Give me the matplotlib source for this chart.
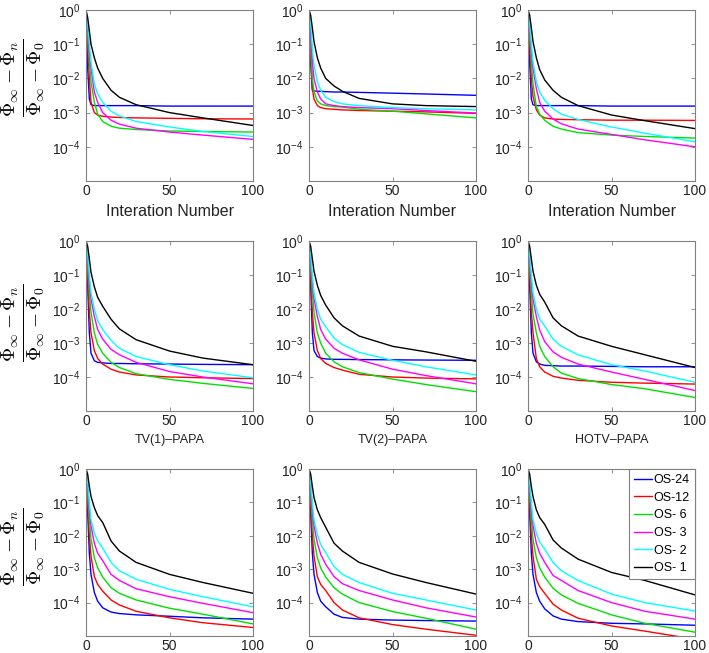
#!/usr/bin/python3
# Relative objective error vs. iteration for OS-PAPA variants (3x3 grid).
import matplotlib
matplotlib.use('Agg')
import matplotlib.pyplot as plt
from matplotlib.ticker import NullLocator

iters = [0, 1, 2, 3, 5, 7, 10, 15, 20, 30, 50, 70, 100]

# Series order: OS-24, OS-12, OS-6, OS-3, OS-2, OS-1.
series = ['OS-24', 'OS-12', 'OS- 6', 'OS- 3', 'OS- 2', 'OS- 1']
colors = ['#0000ff', '#ff0000', '#00e000', '#ff00ff', '#00ffff', '#000000']

# Row titles (x labels).
row_labels = [['Interation Number'] * 3,
              ['TV(1)\u2013PAPA', 'TV(2)\u2013PAPA', 'HOTV\u2013PAPA'],
              ['', '', '']]

# Row 1, column 1.
top_1 = [
    [1, 2e-2, 2.5e-3, 1.7e-3, 1.6e-3, 1.6e-3, 1.6e-3, 1.6e-3, 1.6e-3, 1.6e-3, 1.55e-3, 1.55e-3, 1.55e-3],
    [1, 1e-1, 1e-2, 2e-3, 1e-3, 8.5e-4, 7.8e-4, 7.4e-4, 7.2e-4, 7e-4, 6.8e-4, 6.6e-4, 6.5e-4],
    [1, 2e-1, 3e-2, 8e-3, 2e-3, 9e-4, 5.5e-4, 4e-4, 3.5e-4, 3.2e-4, 2.9e-4, 2.8e-4, 2.7e-4],
    [1, 3e-1, 6e-2, 2e-2, 4e-3, 2e-3, 1e-3, 6e-4, 4.6e-4, 3.5e-4, 2.7e-4, 2.2e-4, 1.65e-4],
    [1, 4e-1, 1e-1, 3e-2, 7e-3, 3.5e-3, 2e-3, 1.1e-3, 8e-4, 5.5e-4, 3.8e-4, 2.8e-4, 2e-4],
    [1, 6e-1, 2.5e-1, 1e-1, 4e-2, 2e-2, 1e-2, 4.5e-3, 2.8e-3, 1.7e-3, 1e-3, 7e-4, 4.2e-4],
]
# Row 1, column 2.
top_2 = [
    [1, 3e-2, 4.5e-3, 4.3e-3, 4.2e-3, 4.2e-3, 4.1e-3, 4e-3, 4e-3, 3.9e-3, 3.7e-3, 3.5e-3, 3.2e-3],
    [1, 5e-2, 5e-3, 2.5e-3, 1.6e-3, 1.4e-3, 1.3e-3, 1.25e-3, 1.2e-3, 1.15e-3, 1.1e-3, 1.05e-3, 9.5e-4],
    [1, 1e-1, 1e-2, 4e-3, 2.2e-3, 1.8e-3, 1.6e-3, 1.5e-3, 1.45e-3, 1.25e-3, 1.1e-3, 9.2e-4, 7e-4],
    [1, 2e-1, 3e-2, 1e-2, 4e-3, 2.5e-3, 1.8e-3, 1.6e-3, 1.5e-3, 1.4e-3, 1.3e-3, 1.15e-3, 9.7e-4],
    [1, 4e-1, 8e-2, 2.5e-2, 8e-3, 4.5e-3, 2.8e-3, 2.1e-3, 1.8e-3, 1.6e-3, 1.4e-3, 1.3e-3, 1.2e-3],
    [1, 7e-1, 3e-1, 1.2e-1, 4e-2, 2e-2, 1e-2, 6e-3, 4.2e-3, 2.6e-3, 1.8e-3, 1.6e-3, 1.5e-3],
]
# Row 1, column 3.
top_3 = [
    [1, 3e-2, 2.5e-3, 1.7e-3, 1.6e-3, 1.6e-3, 1.6e-3, 1.6e-3, 1.6e-3, 1.6e-3, 1.55e-3, 1.55e-3, 1.55e-3],
    [1, 1e-1, 1e-2, 3e-3, 1.2e-3, 8.5e-4, 7e-4, 6.5e-4, 6.3e-4, 6.2e-4, 6e-4, 6e-4, 5.9e-4],
    [1, 2e-1, 3e-2, 7e-3, 1.5e-3, 9e-4, 6e-4, 4e-4, 3.3e-4, 2.6e-4, 2.2e-4, 2e-4, 1.8e-4],
    [1, 3e-1, 6e-2, 2e-2, 5e-3, 2e-3, 1.1e-3, 6.5e-4, 4.7e-4, 3.3e-4, 2.3e-4, 1.6e-4, 1e-4],
    [1, 4e-1, 1e-1, 3e-2, 8e-3, 4e-3, 2.3e-3, 1.3e-3, 9e-4, 6.3e-4, 3.8e-4, 2.5e-4, 1.4e-4],
    [1, 7e-1, 3e-1, 1.2e-1, 4e-2, 1.8e-2, 9e-3, 4.5e-3, 2.8e-3, 1.6e-3, 8.5e-4, 5.8e-4, 3.4e-4],
]
# Row 2: TV(1)-PAPA.
tv1_papa = [
    [1, 5e-2, 2e-3, 5e-4, 3e-4, 2.7e-4, 2.6e-4, 2.5e-4, 2.5e-4, 2.45e-4, 2.4e-4, 2.35e-4, 2.3e-4],
    [1, 1e-1, 8e-3, 2e-3, 6e-4, 3.5e-4, 2.4e-4, 1.7e-4, 1.4e-4, 1.15e-4, 1e-4, 9.5e-5, 9e-5],
    [1, 2e-1, 3e-2, 8e-3, 2e-3, 9e-4, 5e-4, 2.7e-4, 1.9e-4, 1.25e-4, 8.5e-5, 6.5e-5, 4.6e-5],
    [1, 3e-1, 6e-2, 2e-2, 6e-3, 2.5e-3, 1.3e-3, 6.5e-4, 4.5e-4, 2.7e-4, 1.45e-4, 1e-4, 6.3e-5],
    [1, 4e-1, 1e-1, 3e-2, 1e-2, 4.5e-3, 2.5e-3, 1.2e-3, 7e-4, 4e-4, 2.3e-4, 1.5e-4, 9.5e-5],
    [1, 7e-1, 3e-1, 1.2e-1, 4.5e-2, 2.2e-2, 1.2e-2, 5e-3, 2.6e-3, 1.25e-3, 5.8e-4, 3.6e-4, 2.3e-4],
]
# Row 2: TV(2)-PAPA.
tv2_papa = [
    [1, 5e-2, 2e-3, 6e-4, 4e-4, 3.6e-4, 3.4e-4, 3.3e-4, 3.3e-4, 3.25e-4, 3.2e-4, 3.15e-4, 3.1e-4],
    [1, 1e-1, 8e-3, 2e-3, 6e-4, 3.5e-4, 2.5e-4, 1.9e-4, 1.6e-4, 1.2e-4, 1e-4, 9.3e-5, 8.8e-5],
    [1, 2e-1, 3e-2, 8e-3, 2e-3, 1e-3, 5e-4, 2.8e-4, 2e-4, 1.35e-4, 8.7e-5, 6e-5, 3.7e-5],
    [1, 3e-1, 6e-2, 2e-2, 6e-3, 2.5e-3, 1.3e-3, 7e-4, 5e-4, 3.2e-4, 1.7e-4, 1.1e-4, 6.3e-5],
    [1, 4e-1, 1e-1, 3e-2, 1e-2, 5e-3, 3e-3, 1.4e-3, 9e-4, 5.3e-4, 3.1e-4, 2e-4, 1.15e-4],
    [1, 7e-1, 3e-1, 1.3e-1, 5e-2, 2.5e-2, 1.3e-2, 5.5e-3, 3.2e-3, 1.6e-3, 8e-4, 5.5e-4, 2.9e-4],
]
# Row 2: HOTV-PAPA.
hotv_papa = [
    [1, 5e-2, 2e-3, 5e-4, 2.8e-4, 2.4e-4, 2.2e-4, 2.15e-4, 2.1e-4, 2.1e-4, 2.05e-4, 2e-4, 2e-4],
    [1, 1e-1, 8e-3, 2e-3, 3.5e-4, 2e-4, 1.4e-4, 1.05e-4, 9.3e-5, 8e-5, 7e-5, 6.6e-5, 6.2e-5],
    [1, 2e-1, 3e-2, 7e-3, 2e-3, 8e-4, 4e-4, 2e-4, 1.3e-4, 9e-5, 6e-5, 4.5e-5, 2.5e-5],
    [1, 3e-1, 6e-2, 2e-2, 6e-3, 2.4e-3, 1.1e-3, 5.5e-4, 3.8e-4, 2.4e-4, 1.4e-4, 8.5e-5, 4e-5],
    [1, 4e-1, 1e-1, 3e-2, 1e-2, 5e-3, 3.2e-3, 1.3e-3, 8e-4, 4.5e-4, 2.3e-4, 1.5e-4, 7e-5],
    [1, 7e-1, 3e-1, 1.3e-1, 5e-2, 2.7e-2, 1.6e-2, 5.5e-3, 3.2e-3, 1.6e-3, 8e-4, 4.5e-4, 1.9e-4],
]
# Row 3, column 1.
bot_1 = [
    [1, 5e-2, 3e-3, 7e-4, 2e-4, 1.1e-4, 7e-5, 5.2e-5, 4.7e-5, 4.3e-5, 3.9e-5, 3.5e-5, 3.2e-5],
    [1, 1e-1, 1e-2, 2.5e-3, 6e-4, 3.5e-4, 2.2e-4, 1.2e-4, 8.5e-5, 5.5e-5, 3.5e-5, 2.5e-5, 1.8e-5],
    [1, 2e-1, 3e-2, 8e-3, 2.2e-3, 1.1e-3, 5.8e-4, 2.8e-4, 1.9e-4, 1.2e-4, 6.8e-5, 4.5e-5, 2.3e-5],
    [1, 3e-1, 6e-2, 2e-2, 6e-3, 3e-3, 1.8e-3, 7e-4, 4.6e-4, 2.6e-4, 1.5e-4, 9.5e-5, 5e-5],
    [1, 4e-1, 1e-1, 3e-2, 1.2e-2, 7e-3, 4.3e-3, 1.6e-3, 9e-4, 5e-4, 2.5e-4, 1.5e-4, 7.5e-5],
    [1, 7e-1, 3e-1, 1.5e-1, 7e-2, 4e-2, 2.5e-2, 7e-3, 3.5e-3, 1.6e-3, 7e-4, 4e-4, 1.9e-4],
]
# Row 3, column 2.
bot_2 = [
    [1, 5e-2, 3e-3, 7e-4, 2e-4, 1.1e-4, 7.5e-5, 4.5e-5, 3.6e-5, 3.2e-5, 3e-5, 2.9e-5, 2.8e-5],
    [1, 1e-1, 1e-2, 2.5e-3, 6e-4, 3.5e-4, 2.3e-4, 1e-4, 6e-5, 3.5e-5, 2.2e-5, 1.6e-5, 1.05e-5],
    [1, 2e-1, 3e-2, 8e-3, 2.2e-3, 1.1e-3, 5.8e-4, 2.8e-4, 1.8e-4, 1e-4, 5.4e-5, 3.4e-5, 1.6e-5],
    [1, 3e-1, 6e-2, 2e-2, 6e-3, 2.8e-3, 1.4e-3, 6e-4, 3.7e-4, 2.3e-4, 1.2e-4, 7e-5, 3.7e-5],
    [1, 4e-1, 1e-1, 3e-2, 1.1e-2, 5.5e-3, 3.1e-3, 1.2e-3, 7e-4, 4e-4, 1.9e-4, 1.2e-4, 6e-5],
    [1, 7e-1, 3e-1, 1.4e-1, 6e-2, 3.5e-2, 1.8e-2, 6e-3, 3.5e-3, 1.6e-3, 7.2e-4, 4e-4, 1.8e-4],
]
# Row 3, column 3.
bot_3 = [
    [1, 5e-2, 3e-3, 7e-4, 2e-4, 1.1e-4, 6.5e-5, 4e-5, 3.2e-5, 2.7e-5, 2.4e-5, 2.3e-5, 2.1e-5],
    [1, 1e-1, 1e-2, 2.5e-3, 5e-4, 3e-4, 1.9e-4, 9e-5, 6e-5, 3.4e-5, 2e-5, 1.4e-5, 8e-6],
    [1, 2e-1, 3e-2, 8e-3, 2.2e-3, 1.1e-3, 5.8e-4, 2.7e-4, 1.7e-4, 9.5e-5, 4.3e-5, 2.4e-5, 1.3e-5],
    [1, 3e-1, 6e-2, 2e-2, 6e-3, 3e-3, 1.6e-3, 6.5e-4, 4.6e-4, 2.3e-4, 1e-4, 5.5e-5, 3.2e-5],
    [1, 4e-1, 1e-1, 3e-2, 1.2e-2, 6.5e-3, 4e-3, 1.6e-3, 9e-4, 4.6e-4, 1.8e-4, 1e-4, 5.6e-5],
    [1, 7e-1, 3e-1, 1.5e-1, 6e-2, 3.5e-2, 2.2e-2, 7.5e-3, 4.3e-3, 2e-3, 8e-4, 4.6e-4, 1.7e-4],
]

panels = [[top_1, top_2, top_3],
          [tv1_papa, tv2_papa, hotv_papa],
          [bot_1, bot_2, bot_3]]


def make_axes(fig, row, col):
    """
    Place one panel, pixel positions measured from the 709x653 reference.
    """
    W, H = 709., 653.
    lefts = [86, 309, 528]
    rows = [(10, 181), (241, 411), (469, 636)]
    top, bottom = rows[row]
    return fig.add_axes([lefts[col] / W, 1 - bottom / H,
                         167 / W, (bottom - top) / H])


def style_axes(ax):
    """
    Matlab-like log axes: gray frame, inward ticks on all sides.
    """
    ax.set_yscale('log')
    ax.set_xlim(0, 100)
    ax.set_ylim(1e-5, 1)
    ax.set_xticks([0, 50, 100])
    ax.set_yticks([1e-4, 1e-3, 1e-2, 1e-1, 1])
    ax.yaxis.set_minor_locator(NullLocator())
    for s in ax.spines.values():
        s.set_color('#808080')
        s.set_linewidth(0.8)
    ax.tick_params(direction='in', length=3, width=0.6, color='#808080',
                   top=True, right=True, labelsize=10, labelcolor='#222222')
    ax.tick_params(axis='x', pad=2.5)
    ax.tick_params(axis='y', pad=4)


def main():
    plt.rcParams['font.family'] = ['Liberation Sans', 'DejaVu Sans']
    plt.rcParams['mathtext.fontset'] = 'custom'
    plt.rcParams['mathtext.rm'] = 'Liberation Sans'
    plt.rcParams['mathtext.it'] = 'Liberation Sans:italic'

    fig = plt.figure(figsize=(7.09, 6.53), dpi=100)
    ylabel = r'$\frac{\Phi_\infty - \Phi_n}{\Phi_\infty - \Phi_0}$'
    label_y = [0.6, 0.52, 0.53]

    for r in range(3):
        for c in range(3):
            ax = make_axes(fig, r, c)
            for vals, name, col in zip(panels[r][c], series, colors):
                ax.plot(iters, vals, color=col, lw=1.0, label=name)
            style_axes(ax)
            # x label: big on the first row, small titles on the second.
            if row_labels[r][c]:
                fs = 11.5 if r == 0 else 9
                ax.set_xlabel(row_labels[r][c], fontsize=fs, labelpad=4,
                              color='#222222')
            if c == 0:
                ax.set_ylabel(ylabel, fontsize=20, math_fontfamily='cm')
                ax.yaxis.set_label_coords(-0.235, label_y[r])
            if r == 2 and c == 2:
                leg = ax.legend(loc='upper right', fontsize=9,
                                borderaxespad=0, handlelength=1.4,
                                handletextpad=0.15, labelspacing=0.45,
                                fancybox=False, framealpha=1,
                                borderpad=0.4)
                leg.get_frame().set_edgecolor('#808080')
                leg.get_frame().set_linewidth(0.8)

    fig.savefig('out.png', dpi=100)


if(__name__ == '__main__'):
    main()
